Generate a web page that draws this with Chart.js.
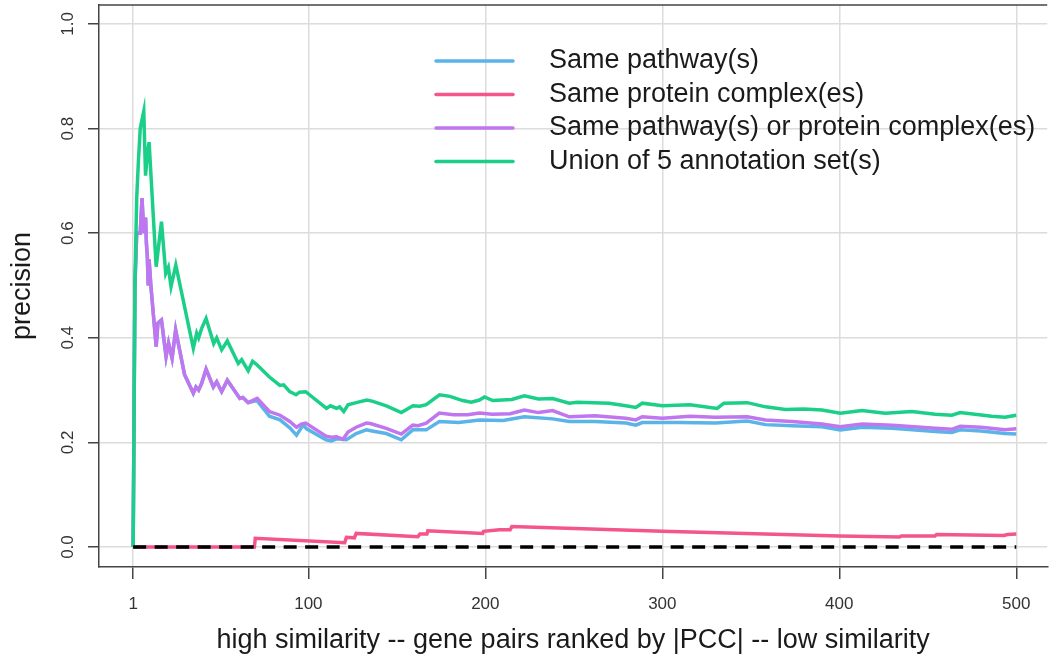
<!DOCTYPE html>
<html>
<head>
<meta charset="utf-8">
<script src="https://cdn.jsdelivr.net/npm/chart.js@4.4.1/dist/chart.umd.min.js"></script>
<style>
  html, body { margin: 0; padding: 0; background: #fff; overflow: hidden; }
</style>
</head>
<body>
<canvas id="grafico" width="1049" height="657"></canvas>
<script>
// Séries (rank, precisão)
const azulX = [1, 2, 3, 5, 6, 7, 8, 8.5, 9, 9.5, 10, 11, 14, 15, 17, 19.6, 21, 23, 25, 30, 35, 36.5, 38, 39.7, 42.2, 46.3, 48.2, 51, 54.2, 61.3, 63, 66, 71, 78, 84, 89.5, 93.3, 97, 99, 110, 113, 116, 121.5, 127, 132.8, 136, 144, 152.5, 159, 166.6, 174, 185, 196.7, 210, 222, 238, 247.4, 262, 279.4, 285, 288.7, 309.4, 330, 348, 358.3, 373.3, 390.2, 400.6, 412.8, 430, 454.2, 463.6, 468.3, 480, 493.6, 500];
const azulY = [0, 0.5, 0.6, 0.6, 0.667, 0.6, 0.63, 0.58, 0.556, 0.5, 0.55, 0.5, 0.383, 0.428, 0.434, 0.364, 0.39, 0.361, 0.415, 0.33, 0.294, 0.306, 0.30, 0.313, 0.34, 0.306, 0.316, 0.297, 0.319, 0.284, 0.286, 0.276, 0.28, 0.25, 0.243, 0.228, 0.214, 0.233, 0.226, 0.205, 0.203, 0.207, 0.205, 0.217, 0.224, 0.222, 0.217, 0.205, 0.224, 0.224, 0.240, 0.238, 0.243, 0.242, 0.249, 0.245, 0.240, 0.240, 0.237, 0.233, 0.238, 0.238, 0.237, 0.241, 0.234, 0.232, 0.230, 0.224, 0.229, 0.227, 0.221, 0.219, 0.224, 0.222, 0.217, 0.216];

const rosaX = [1, 69.5, 70, 120.5, 121.5, 126, 127, 161.9, 163, 167, 167.5, 198.5, 199, 208, 214, 215, 300, 400, 434, 435, 454, 455, 493, 495, 500];
const rosaY = [0, 0, 0.0166, 0.0083, 0.0185, 0.0175, 0.026, 0.0197, 0.025, 0.025, 0.031, 0.026, 0.030, 0.033, 0.033, 0.039, 0.030, 0.021, 0.019, 0.021, 0.021, 0.024, 0.022, 0.024, 0.025];

const roxoX = [1, 2, 3, 5, 6, 7, 8, 8.5, 9, 9.5, 10, 11, 14, 15, 17, 19.6, 21, 23, 25, 30, 35, 36.5, 38, 39.7, 42.2, 46.3, 48.2, 51, 54.2, 61.3, 63, 66, 71.1, 78, 84, 89.5, 93.3, 96, 98.5, 110, 113, 116, 119.6, 122.4, 127, 132.8, 135, 144, 152.5, 159, 162, 166.6, 174, 182, 190, 196.7, 204, 214, 222, 230, 238, 247.4, 262, 279.4, 285, 288.7, 300, 315.6, 330, 348, 358.3, 373.3, 390.2, 400.6, 412.8, 430, 454.2, 463.6, 468.3, 480, 493.6, 500];
const roxoY = [0, 0.5, 0.6, 0.6, 0.667, 0.6, 0.63, 0.58, 0.556, 0.5, 0.55, 0.5, 0.383, 0.428, 0.434, 0.364, 0.39, 0.361, 0.415, 0.33, 0.294, 0.306, 0.30, 0.313, 0.34, 0.306, 0.316, 0.297, 0.319, 0.284, 0.286, 0.276, 0.284, 0.259, 0.252, 0.240, 0.229, 0.235, 0.237, 0.212, 0.21, 0.211, 0.206, 0.220, 0.229, 0.237, 0.236, 0.227, 0.216, 0.233, 0.232, 0.237, 0.256, 0.253, 0.253, 0.256, 0.254, 0.255, 0.262, 0.257, 0.261, 0.249, 0.251, 0.246, 0.243, 0.249, 0.246, 0.250, 0.248, 0.249, 0.243, 0.240, 0.235, 0.230, 0.235, 0.233, 0.227, 0.225, 0.231, 0.229, 0.224, 0.226];

const verdeX = [1, 2, 3, 4, 5, 7, 8, 9, 10, 14, 17, 19.4, 20.9, 22.4, 25.1, 35, 36.9, 38, 39.7, 42.2, 46.5, 48.2, 51, 54.2, 60.4, 62.3, 66, 68.5, 71.1, 78, 83.9, 86, 89.5, 93, 95, 98.5, 110.2, 112.5, 115.9, 117.7, 120, 122.4, 127.1, 133, 136, 144.1, 152.5, 155, 159.1, 163, 166.6, 174.1, 180, 187.2, 192, 196.7, 199.5, 204.2, 215, 222, 230, 238, 247.4, 252, 270, 279.4, 285, 288.7, 300, 315.6, 331, 334.8, 348, 358.3, 369.6, 380, 390.2, 400.6, 412.8, 426, 441, 454.2, 463.6, 468.3, 486.1, 493.6, 500];
const verdeY = [0, 0.5, 0.667, 0.74, 0.8, 0.833, 0.71, 0.75, 0.774, 0.536, 0.622, 0.523, 0.535, 0.498, 0.539, 0.380, 0.409, 0.40, 0.418, 0.437, 0.389, 0.400, 0.377, 0.394, 0.351, 0.358, 0.337, 0.355, 0.348, 0.325, 0.309, 0.31, 0.297, 0.291, 0.296, 0.297, 0.265, 0.270, 0.265, 0.268, 0.259, 0.272, 0.276, 0.281, 0.279, 0.270, 0.257, 0.262, 0.270, 0.269, 0.272, 0.291, 0.288, 0.280, 0.277, 0.281, 0.287, 0.280, 0.282, 0.289, 0.283, 0.284, 0.275, 0.277, 0.275, 0.270, 0.267, 0.275, 0.270, 0.272, 0.265, 0.275, 0.276, 0.268, 0.263, 0.264, 0.262, 0.256, 0.261, 0.256, 0.259, 0.254, 0.252, 0.257, 0.250, 0.248, 0.252];

const baseX = [1, 500];
const baseY = [0, 0];

const rotulos = ['Same pathway(s)', 'Same protein complex(es)', 'Same pathway(s) or protein complex(es)', 'Union of 5 annotation set(s)'];
const cores = ['#5BB4E8', '#F4558A', '#BF76EF', '#1BCF88'];
const ticksX = [1, 100, 200, 300, 400, 500];
const ticksY = [0, 0.2, 0.4, 0.6, 0.8, 1.0];

const fonte = '"Liberation Sans", Arial, Helvetica, sans-serif';

function pares(xs, ys) {
  return xs.map((x, i) => ({ x: x, y: ys[i] }));
}

function serie(nome, xs, ys, cor, ordem) {
  return {
    label: nome,
    data: pares(xs, ys),
    borderColor: cor,
    borderWidth: 3.5,
    pointRadius: 0,
    tension: 0,
    fill: false,
    order: ordem
  };
}

// Texto, legenda e moldura superior
const extras = {
  id: 'extras',
  afterDraw(chart) {
    const ctx = chart.ctx;
    const area = chart.chartArea;
    const sy = chart.scales.y;
    ctx.save();

    // linha superior da moldura
    ctx.strokeStyle = '#444';
    ctx.lineWidth = 1.5;
    ctx.beginPath();
    ctx.moveTo(area.left, area.top);
    ctx.lineTo(area.right, area.top);
    ctx.stroke();

    // rótulos do eixo Y (verticais)
    ctx.fillStyle = '#333';
    ctx.font = '17px ' + fonte;
    ctx.textAlign = 'center';
    ctx.textBaseline = 'middle';
    ticksY.forEach(v => {
      ctx.save();
      ctx.translate(68, sy.getPixelForValue(v));
      ctx.rotate(-Math.PI / 2);
      ctx.fillText(v.toFixed(1), 0, 0);
      ctx.restore();
    });

    // títulos dos eixos
    ctx.fillStyle = '#1a1a1a';
    ctx.font = '27px ' + fonte;
    ctx.save();
    ctx.translate(23, (area.top + area.bottom) / 2);
    ctx.rotate(-Math.PI / 2);
    ctx.fillText('precision', 0, 0);
    ctx.restore();
    ctx.fillText('high similarity -- gene pairs ranked by |PCC| -- low similarity', (area.left + area.right) / 2, 641);

    // legenda
    ctx.textAlign = 'left';
    ctx.lineWidth = 3.5;
    ctx.lineCap = 'round';
    rotulos.forEach((txt, i) => {
      const y = 61 + i * 33.5;
      ctx.strokeStyle = cores[i];
      ctx.beginPath();
      ctx.moveTo(436, y);
      ctx.lineTo(513, y);
      ctx.stroke();
      ctx.fillText(txt, 549, y);
    });
    ctx.restore();
  }
};

const ctx = document.getElementById('grafico').getContext('2d');

const grafico = new Chart(ctx, {
  type: 'line',
  data: {
    datasets: [
      serie('base', baseX, baseY, '#000', 0),
      serie(rotulos[3], verdeX, verdeY, cores[3], 1),
      serie(rotulos[2], roxoX, roxoY, cores[2], 2),
      serie(rotulos[1], rosaX, rosaY, cores[1], 3),
      serie(rotulos[0], azulX, azulY, cores[0], 4)
    ]
  },
  options: {
    responsive: false,
    animation: false,
    devicePixelRatio: 1,
    layout: { padding: { top: 5, right: 0, left: 0, bottom: 0 } },
    plugins: {
      legend: { display: false },
      tooltip: { enabled: false }
    },
    scales: {
      x: {
        type: 'linear',
        min: -18.3,
        max: 517.5,
        afterBuildTicks: s => { s.ticks = ticksX.map(v => ({ value: v })); },
        afterFit: s => { s.height = 90; },
        grid: { color: '#dcdcdc', lineWidth: 1.5, tickColor: '#444', tickLength: 12 },
        border: { color: '#444', width: 1.5 },
        ticks: {
          autoSkip: false,
          maxRotation: 0,
          padding: 15,
          color: '#333',
          font: { size: 17, family: fonte }
        }
      },
      y: {
        type: 'linear',
        min: -0.0382,
        max: 1.0363,
        afterBuildTicks: s => { s.ticks = ticksY.map(v => ({ value: v })); },
        afterFit: s => { s.width = 99; },
        grid: { color: '#dcdcdc', lineWidth: 1.5, tickColor: '#444', tickLength: 11 },
        border: { color: '#444', width: 1.5 },
        ticks: { display: false }
      }
    }
  },
  plugins: [extras]
});

// linha tracejada de referência
grafico.data.datasets[0].borderDash = [13, 8.5];
grafico.update();
</script>
</body>
</html>
